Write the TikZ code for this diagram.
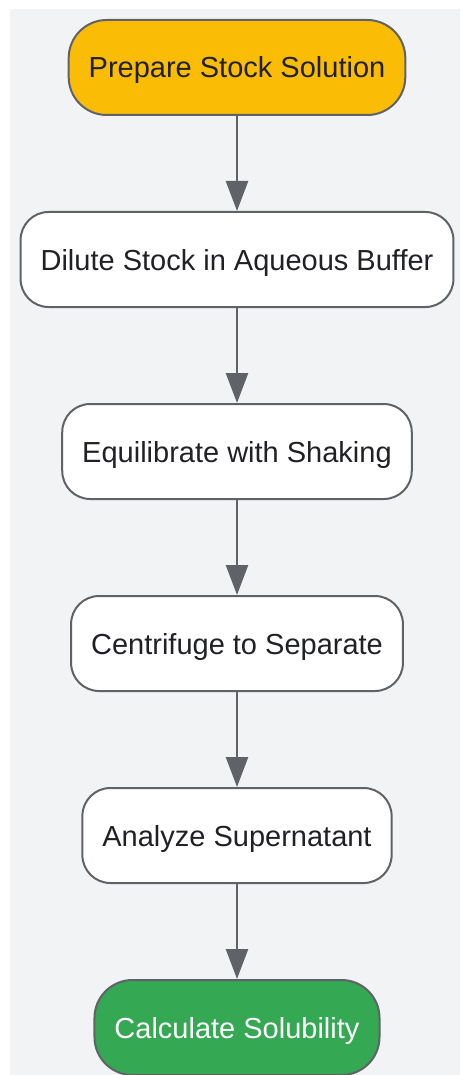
\documentclass[tikz,border=0pt]{standalone}
\usepackage{fontspec}
\setmainfont{Liberation Sans}
\usepackage{tikz}
\usetikzlibrary{arrows.meta}
\definecolor{colorback}  {RGB}{241,243,244}
\definecolor{colorline}  {RGB}{95 ,99 ,104}
\definecolor{colorstart} {RGB}{251,188,5  }
\definecolor{colorend}   {RGB}{52 ,168,83 }
\definecolor{colortext}  {RGB}{32 ,33 ,36 }

\begin{document}
\begin{tikzpicture}[
    x=1pt, y=-1pt,
    font={\fontsize{29}{34}\selectfont},
    base/.style={text=colortext,draw=colorline,line width=2pt,inner xsep=20pt,
        text height=21pt,text depth=0pt,minimum height=95pt,rectangle,rounded corners=28pt},
    first/.style={base,fill=colorstart,rounded corners=38pt},
    middle/.style={base,fill=white},
    last/.style={base,fill=colorend,text=white,rounded corners=38pt},
    arrow/.style={draw=colorline,line width=2.5pt,-{Triangle[length=30pt,width=22pt]}},
]

    % Background
    \useasboundingbox (0,0) rectangle (460,1075);
    \fill[colorback] (10,9) rectangle (460,1075);

    % Steps
    \node[first]  at (237, 67.5) (stock)    {Prepare Stock Solution};
    \node[middle] at (237,259.5) (dilute)   {Dilute Stock in Aqueous Buffer};
    \node[middle] at (237,451.5) (shake)    {Equilibrate with Shaking};
    \node[middle] at (237,643.5) (spin)     {Centrifuge to Separate};
    \node[middle] at (237,835.5) (analyze)  {Analyze Supernatant};
    \node[last]   at (237,1027.5) (solub)   {Calculate Solubility};

    % Arrows
    \draw[arrow] (stock) to (dilute);
    \draw[arrow] (dilute) to (shake);
    \draw[arrow] (shake) to (spin);
    \draw[arrow] (spin) to (analyze);
    \draw[arrow] (analyze) to (solub);

\end{tikzpicture}
\end{document}
